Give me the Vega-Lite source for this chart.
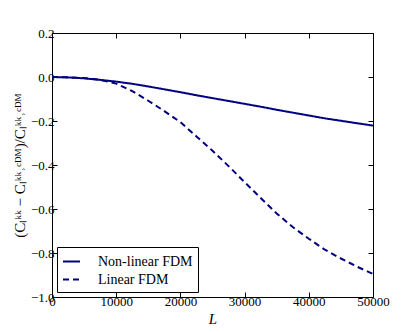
{
  "$schema": "https://vega.github.io/schema/vega-lite/v6.json",
  "width": 321,
  "height": 264,
  "autosize": {"type": "none"},
  "padding": {"left": 52, "top": 33, "right": 42, "bottom": 35},
  "background": "white",
  "config": {
    "view": {"stroke": "black", "strokeWidth": 1},
    "axis": {
      "grid": false,
      "domain": false,
      "tickColor": "black",
      "tickSize": -5,
      "tickWidth": 1,
      "labelFont": "Liberation Serif",
      "labelFontSize": 13,
      "labelColor": "black",
      "titleFont": "Liberation Serif",
      "titleFontSize": 15,
      "titleFontWeight": "normal",
      "titleColor": "black"
    }
  },
  "data": {
    "values": [
      {"L": 0, "v": 0, "model": "Non-linear FDM"},
      {"L": 2500, "v": -0.002, "model": "Non-linear FDM"},
      {"L": 5000, "v": -0.006, "model": "Non-linear FDM"},
      {"L": 7500, "v": -0.013, "model": "Non-linear FDM"},
      {"L": 10000, "v": -0.021, "model": "Non-linear FDM"},
      {"L": 12500, "v": -0.031, "model": "Non-linear FDM"},
      {"L": 15000, "v": -0.043, "model": "Non-linear FDM"},
      {"L": 17500, "v": -0.056, "model": "Non-linear FDM"},
      {"L": 20000, "v": -0.069, "model": "Non-linear FDM"},
      {"L": 22500, "v": -0.083, "model": "Non-linear FDM"},
      {"L": 25000, "v": -0.096, "model": "Non-linear FDM"},
      {"L": 27500, "v": -0.109, "model": "Non-linear FDM"},
      {"L": 30000, "v": -0.122, "model": "Non-linear FDM"},
      {"L": 32500, "v": -0.135, "model": "Non-linear FDM"},
      {"L": 35000, "v": -0.149, "model": "Non-linear FDM"},
      {"L": 37500, "v": -0.162, "model": "Non-linear FDM"},
      {"L": 40000, "v": -0.175, "model": "Non-linear FDM"},
      {"L": 42500, "v": -0.188, "model": "Non-linear FDM"},
      {"L": 45000, "v": -0.199, "model": "Non-linear FDM"},
      {"L": 47500, "v": -0.21, "model": "Non-linear FDM"},
      {"L": 50000, "v": -0.221, "model": "Non-linear FDM"},
      {"L": 0, "v": 0, "model": "Linear FDM"},
      {"L": 2500, "v": -0.001, "model": "Linear FDM"},
      {"L": 5000, "v": -0.005, "model": "Linear FDM"},
      {"L": 7500, "v": -0.013, "model": "Linear FDM"},
      {"L": 10000, "v": -0.03, "model": "Linear FDM"},
      {"L": 12500, "v": -0.064, "model": "Linear FDM"},
      {"L": 15000, "v": -0.108, "model": "Linear FDM"},
      {"L": 17500, "v": -0.155, "model": "Linear FDM"},
      {"L": 20000, "v": -0.205, "model": "Linear FDM"},
      {"L": 22500, "v": -0.27, "model": "Linear FDM"},
      {"L": 25000, "v": -0.335, "model": "Linear FDM"},
      {"L": 27500, "v": -0.405, "model": "Linear FDM"},
      {"L": 30000, "v": -0.478, "model": "Linear FDM"},
      {"L": 32500, "v": -0.55, "model": "Linear FDM"},
      {"L": 35000, "v": -0.62, "model": "Linear FDM"},
      {"L": 37500, "v": -0.682, "model": "Linear FDM"},
      {"L": 40000, "v": -0.735, "model": "Linear FDM"},
      {"L": 42500, "v": -0.785, "model": "Linear FDM"},
      {"L": 45000, "v": -0.825, "model": "Linear FDM"},
      {"L": 47500, "v": -0.862, "model": "Linear FDM"},
      {"L": 50000, "v": -0.895, "model": "Linear FDM"}
    ]
  },
  "layer": [
    {
      "mark": {"type": "line", "strokeWidth": 2, "color": "#000080", "clip": true},
      "encoding": {
        "x": {
          "field": "L", "type": "quantitative",
          "scale": {"domain": [0, 50000], "nice": false, "zero": false},
          "axis": {"values": [0, 10000, 20000, 30000, 40000, 50000], "format": "d", "title": "L", "titleFontStyle": "italic", "labelPadding": 3, "titlePadding": 3, "labelFlush": false}
        },
        "y": {
          "field": "v", "type": "quantitative",
          "scale": {"domain": [-1.0, 0.2], "nice": false, "zero": false},
          "axis": {"values": [-1.0, -0.8, -0.6, -0.4, -0.2, 0.0, 0.2], "format": ".1f", "title": "(Cₗᵏᵏ − Cₗᵏᵏ˒ᶜᴰᴹ)/Cₗᵏᵏ˒ᶜᴰᴹ", "labelPadding": 3, "titlePadding": 3, "labelFlush": false}
        },
        "strokeDash": {
          "field": "model", "type": "nominal",
          "scale": {"domain": ["Non-linear FDM", "Linear FDM"], "range": [[1, 0], [6, 4]]},
          "legend": {
            "title": null,
            "orient": "bottom-left",
            "offset": 5,
            "strokeColor": "black",
            "fillColor": "white",
            "padding": 5,
            "symbolType": "stroke",
            "symbolSize": 289,
            "symbolStrokeWidth": 2,
            "symbolStrokeColor": "#000080",
            "labelFont": "Liberation Serif",
            "labelFontSize": 14,
            "labelColor": "black",
            "labelOffset": 17,
            "rowPadding": 1
          }
        }
      }
    },
    {
      "mark": {"type": "line", "opacity": 0},
      "encoding": {
        "x": {"field": "L", "type": "quantitative", "axis": {"orient": "top", "values": [0, 10000, 20000, 30000, 40000, 50000], "labels": false, "title": null}},
        "y": {"field": "v", "type": "quantitative", "axis": {"orient": "right", "values": [-1.0, -0.8, -0.6, -0.4, -0.2, 0.0, 0.2], "labels": false, "title": null}}
      }
    }
  ],
  "resolve": {"axis": {"x": "independent", "y": "independent"}}
}
